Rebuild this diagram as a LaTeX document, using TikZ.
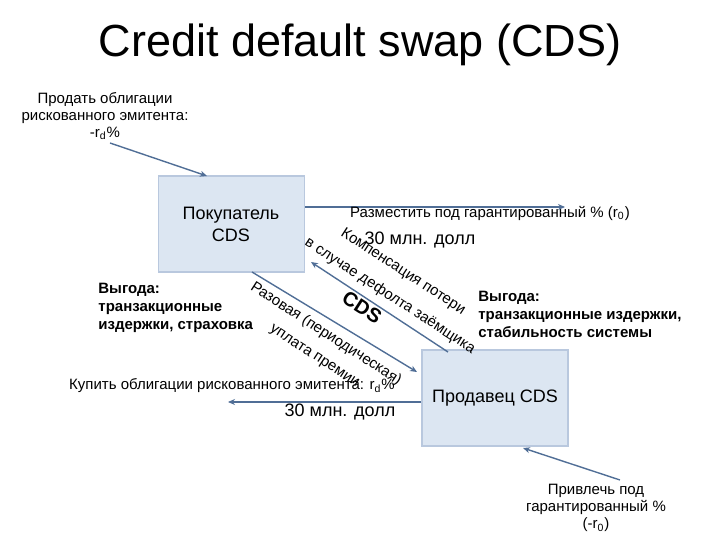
\documentclass[tikz,border=0pt]{standalone}
\usepackage{fontspec}
\usetikzlibrary{arrows.meta}
\setmainfont{Liberation Sans}
\definecolor{boxfill}{RGB}{220,230,242}
\definecolor{boxline}{RGB}{185,200,222}
\definecolor{arr}{RGB}{80,110,150}
\begin{document}
\begin{tikzpicture}[x=0.5pt,y=-0.5pt,
  party/.style={draw=boxline,line width=0.8pt,fill=boxfill,minimum width=73pt,minimum height=48pt,inner sep=0pt},
  flow/.style={draw=arr,line width=0.7pt,-{Stealth[length=3.5pt,width=3pt]}},
  lbl/.style={font=\fontsize{7.5}{9}\selectfont,inner sep=0pt},
  big/.style={font=\fontsize{9}{11}\selectfont,inner sep=0pt},
  rot/.style={font=\fontsize{7.5}{9}\selectfont,inner sep=0pt,rotate=-33}]
\useasboundingbox (0,0) rectangle (720,540);
\node[font=\fontsize{22.5}{26}\selectfont,inner sep=0pt] (title) at (360,45) {Credit default swap (CDS)};
\node[party] (buyer) at (231.5,224) {};
\node[big,align=center] (buyert) at (231,224) {Покупатель\\CDS};
\node[party] (seller) at (495,398) {};
\node[big] (sellert) at (495,398) {Продавец CDS};
\node[lbl,align=center] (sell) at (105,116) {Продать облигации\\[-0.5pt]рискованного эмитента:\\[-0.5pt]-r\textsubscript{d}\%};
\coordinate (sellend) at (110,143);
\coordinate (bt) at (207,176);
\draw[flow] (sellend) -- (bt);
\node[lbl,align=center] (attract) at (596,508) {Привлечь под\\[-0.5pt]гарантированный \%\\[-0.5pt](-r\textsubscript{0})};
\coordinate (attend) at (620,480);
\coordinate (st) at (523,448);
\draw[flow] (attend) -- (st);
\coordinate (place) at (565,207);
\draw[flow] (buyer.east |- place) -- (place);
\node[lbl] (placet) at (490,213) {Разместить под гарантированный \% (r\textsubscript{0})};
\node[big] (m1) at (420,240) {30 млн. долл};
\coordinate (buy) at (228,402);
\draw[flow] (seller.west |- buy) -- (buy);
\node[lbl] (buyt) at (232,386) {Купить облигации рискованного эмитента: r\textsubscript{d}\%};
\node[big] (m2) at (340,412) {30 млн. долл};
\coordinate (c1) at (448,352);
\coordinate (c2) at (311,262);
\draw[flow] (c1) -- (c2);
\coordinate (d1) at (252,272);
\coordinate (d2) at (417,372);
\draw[flow] (d1) -- (d2);
\node[rot] (r1) at (403,272) {Компенсация потери};
\node[rot] (r2) at (390,296) {в случае дефолта заёмщика};
\node[rot,font=\fontsize{10}{12}\selectfont\bfseries] (cds) at (362,307) {CDS};
\node[rot] (r3) at (326,334) {Разовая (периодическая)};
\node[rot] (r4) at (314,357) {уплата премии};
\node[lbl,align=left,anchor=west,font=\fontsize{7.5}{9}\selectfont\bfseries] (gainl) at (98,308) {Выгода:\\транзакционные\\издержки, страховка};
\node[lbl,align=left,anchor=west,font=\fontsize{7.5}{9}\selectfont\bfseries] (gainr) at (478,314) {Выгода:\\транзакционные издержки,\\стабильность системы};
\end{tikzpicture}
\end{document}
